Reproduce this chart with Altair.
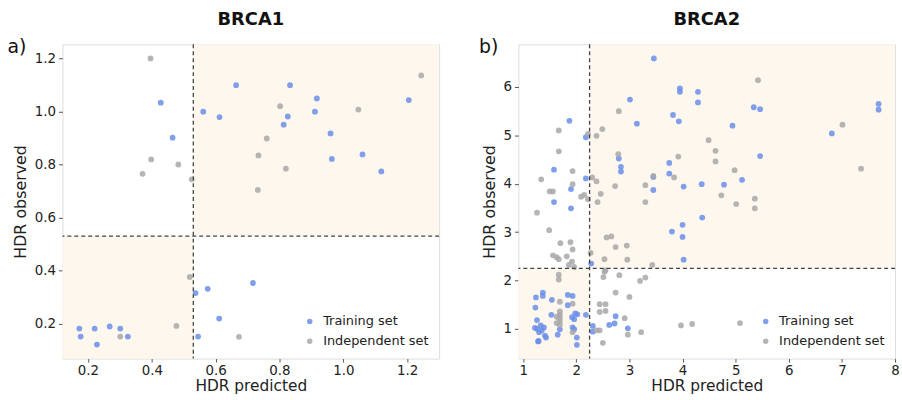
import altair as alt
import pandas as pd

# ---------------- data ----------------
# BRCA1
b1_train_x = [0.428, 0.561, 0.612, 0.664, 0.465, 0.833, 0.917, 0.911, 0.826, 0.813, 1.205, 0.960, 0.964,
              1.060, 1.119, 0.537, 0.575, 0.611, 0.173, 0.177, 0.221, 0.228, 0.268, 0.301, 0.325, 0.545, 0.717]
b1_train_y = [1.033, 0.999, 0.979, 1.099, 0.901, 1.099, 1.049, 0.999, 0.981, 0.950, 1.043, 0.917, 0.821,
              0.838, 0.774, 0.315, 0.331, 0.219, 0.181, 0.151, 0.181, 0.121, 0.189, 0.181, 0.151, 0.151, 0.353]
b1_ind_x = [0.396, 0.398, 0.483, 0.371, 0.525, 0.802, 1.047, 1.244, 0.760, 0.734, 0.820, 0.732, 0.519,
            0.301, 0.477, 0.673]
b1_ind_y = [1.200, 0.819, 0.800, 0.765, 0.744, 1.020, 1.007, 1.136, 0.898, 0.834, 0.784, 0.704, 0.376,
            0.151, 0.191, 0.150]

# BRCA2
b2_train_x = [3.01, 3.14, 1.87, 2.18, 2.80, 2.84, 2.84, 1.58, 2.18, 1.90, 1.58, 1.90, 3.45, 3.45, 2.28,
              2.74, 2.62, 2.72, 2.97, 2.31, 2.31, 2.18,
              1.24, 1.37, 1.37, 1.54, 1.84, 1.93, 1.23, 1.53, 1.84, 1.92, 1.98, 1.96, 1.26, 1.26, 1.33,
              1.39, 1.30, 1.41, 1.43, 1.29, 1.65, 1.69, 1.93, 1.96, 2.01, 2.01, 2.02, 1.28, 1.22, 1.35,
              3.46, 3.95, 3.95, 4.29, 4.29, 3.82, 3.93, 4.94, 5.34, 5.46, 5.46, 3.75, 3.75, 4.02, 4.36,
              4.78, 5.12, 4.37, 4.00, 3.80, 4.00, 4.02, 7.69, 7.69, 6.81]
b2_train_y = [5.74, 5.24, 5.30, 4.96, 4.52, 4.35, 4.25, 4.29, 4.11, 3.89, 3.62, 3.49, 4.14, 3.87, 2.35,
              1.26, 1.08, 1.11, 1.01, 1.06, 0.94, 1.29,
              1.65, 1.75, 1.68, 1.60, 1.70, 1.68, 1.44, 1.29, 1.49, 1.24, 1.32, 1.20, 1.18, 1.00, 1.07,
              1.03, 0.93, 0.86, 0.82, 0.75, 0.88, 0.99, 1.03, 0.99, 0.82, 0.67, 1.30, 0.74, 1.02, 0.97,
              6.59, 5.97, 5.90, 5.90, 5.68, 5.42, 5.29, 5.20, 5.58, 5.54, 4.57, 4.43, 4.21, 3.94, 3.99,
              3.98, 4.08, 3.30, 3.15, 3.01, 2.90, 2.43, 5.65, 5.53, 5.04]
b2_ind_x = [2.80, 1.67, 2.22, 2.38, 2.49, 1.67, 2.79, 1.93, 1.34, 2.30, 2.38, 2.73, 1.93, 1.50, 1.56,
            2.09, 2.15, 2.22, 2.46, 2.40, 3.30, 3.30, 3.45,
            1.26, 1.49, 2.57, 2.66, 1.89, 1.70, 2.74, 2.95, 1.93, 1.56, 1.63, 1.67, 1.82, 2.27, 2.53,
            2.96, 1.86, 1.92, 1.96, 3.43, 2.53, 2.55, 2.51, 2.81, 1.67, 1.67, 3.20, 3.30, 2.74, 3.00,
            2.44, 2.55, 2.44, 2.55, 2.91, 2.97, 3.22, 2.50, 2.38, 2.44,
            1.69, 1.93, 1.69, 1.69, 1.69, 1.69, 1.69, 1.63, 1.63, 1.93,
            5.42, 4.49, 4.62, 4.62, 3.92, 4.98, 3.84, 4.73, 5.36, 5.01, 5.36, 3.97, 4.18, 5.08, 7.01, 7.36]
b2_ind_y = [5.50, 5.10, 5.03, 4.99, 5.13, 4.67, 4.61, 4.26, 4.09, 4.13, 4.05, 3.95, 3.99, 3.84, 3.84,
            3.73, 3.77, 3.68, 3.79, 3.62, 3.97, 3.62, 4.16,
            3.40, 3.04, 2.89, 2.91, 2.79, 2.77, 2.69, 2.72, 2.64, 2.52, 2.48, 2.44, 2.50, 2.57, 2.44,
            2.43, 2.32, 2.39, 2.28, 2.32, 2.18, 2.21, 2.07, 2.11, 2.12, 2.02, 1.99, 2.06, 1.75, 1.66,
            1.51, 1.51, 1.35, 1.37, 1.22, 0.88, 0.93, 0.71, 0.97, 0.97,
            1.56, 1.52, 1.36, 1.29, 1.22, 1.15, 1.08, 1.25, 1.12, 0.93,
            6.14, 4.90, 4.68, 4.46, 4.56, 4.28, 4.13, 3.76, 3.69, 3.58, 3.49, 1.07, 1.10, 1.12, 5.22, 4.31]

series_names = ["Training set", "Independent set"]
series_colors = ["#6a8ee8", "#a8a8a8"]

b1_threshold = 0.53
b2_threshold = 2.25

b1_xticks = [0.2, 0.4, 0.6, 0.8, 1.0, 1.2]
b1_yticks = [0.2, 0.4, 0.6, 0.8, 1.0, 1.2]
b2_xticks = [1, 2, 3, 4, 5, 6, 7, 8]
b2_yticks = [1, 2, 3, 4, 5, 6]

b1_xdom = [0.12, 1.30]
b1_ydom = [0.068, 1.253]
b2_xdom = [0.91, 8.0]
b2_ydom = [0.385, 6.88]

FONT = "DejaVu Sans"
SHADE = "#fdf7ee"


def make_df(tx, ty, ix, iy):
    d1 = pd.DataFrame({"x": tx, "y": ty, "set": series_names[0]})
    d2 = pd.DataFrame({"x": ix, "y": iy, "set": series_names[1]})
    return pd.concat([d1, d2], ignore_index=True)


def panel(df, xdom, ydom, thr, xticks, yticks, title, letter, letter_dx, w, h):
    xs = alt.Scale(domain=xdom, nice=False, zero=False)
    ys = alt.Scale(domain=ydom, nice=False, zero=False)
    shade_df = pd.DataFrame({
        "x0": [thr, xdom[0]], "x1": [xdom[1], thr],
        "y0": [thr, ydom[0]], "y1": [ydom[1], thr],
    })
    shade = alt.Chart(shade_df).mark_rect(color=SHADE).encode(
        x=alt.X("x0:Q", scale=xs,
                axis=alt.Axis(values=xticks, title="HDR predicted", grid=False, domain=False,
                              tickColor="#555", tickSize=3.5, labelFontSize=13.5, titleFontSize=15.5,
                              labelColor="#222", titleColor="#222", labelFont=FONT, titleFont=FONT,
                              titleFontWeight="normal", labelPadding=2, titlePadding=1,
                              labelFlush=False)),
        x2="x1:Q",
        y=alt.Y("y0:Q", scale=ys,
                axis=alt.Axis(values=yticks, title="HDR observed", grid=False, domain=False,
                              tickColor="#555", tickSize=4, labelFontSize=13.5, titleFontSize=16,
                              labelColor="#222", titleColor="#222", labelFont=FONT, titleFont=FONT,
                              titleFontWeight="normal", labelPadding=3, titlePadding=6,
                              labelFlush=False)),
        y2="y1:Q",
    )
    pts = alt.Chart(df).mark_circle(size=34, opacity=0.85).encode(
        x=alt.X("x:Q", scale=xs),
        y=alt.Y("y:Q", scale=ys),
        color=alt.Color("set:N",
                        scale=alt.Scale(domain=series_names, range=series_colors),
                        legend=alt.Legend(title=None, orient="bottom-right", offset=8,
                                          symbolType="circle", symbolSize=30, labelFontSize=13,
                                          labelFont=FONT, labelColor="#222", rowPadding=6,
                                          labelOffset=7, symbolOpacity=0.85, padding=2)),
    )
    thr_df = pd.DataFrame({"t": [thr]})
    vline = alt.Chart(thr_df).mark_rule(color="#444", strokeDash=[4, 3], strokeWidth=1.3).encode(
        x=alt.X("t:Q", scale=xs))
    hline = alt.Chart(thr_df).mark_rule(color="#444", strokeDash=[4, 3], strokeWidth=1.3).encode(
        y=alt.Y("t:Q", scale=ys))
    lab = alt.Chart(pd.DataFrame({"lab": [letter]})).mark_text(
        fontSize=19, font=FONT, color="#111", align="center", baseline="middle").encode(
        text="lab:N", x=alt.value(letter_dx), y=alt.value(3))
    return alt.layer(shade, pts, vline, hline, lab).properties(
        width=w, height=h,
        title=alt.TitleParams(title, fontSize=18, font=FONT, fontWeight="bold", color="#111",
                              offset=10, anchor="middle"))


df1 = make_df(b1_train_x, b1_train_y, b1_ind_x, b1_ind_y)
df2 = make_df(b2_train_x, b2_train_y, b2_ind_x, b2_ind_y)

p1 = panel(df1, b1_xdom, b1_ydom, b1_threshold, b1_xticks, b1_yticks, "BRCA1", "a)", -46, 380, 317)
p2 = panel(df2, b2_xdom, b2_ydom, b2_threshold, b2_xticks, b2_yticks, "BRCA2", "b)", -30, 380, 317)

chart = alt.hconcat(p1, p2, spacing=37).resolve_scale(color="independent").resolve_legend(
    color="independent").properties(padding={"left": 6, "top": 8, "right": 2, "bottom": 2}).configure_view(
    stroke="#808080", strokeWidth=1).configure(background="white")

chart.save("out.html", embed_options={"renderer": "svg", "actions": False})
